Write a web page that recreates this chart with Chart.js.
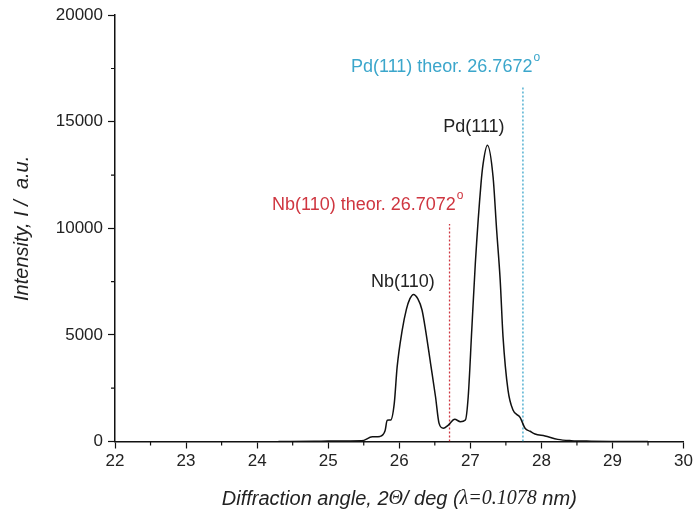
<!DOCTYPE html>
<html>
<head>
<meta charset="utf-8">
<script src="https://cdn.jsdelivr.net/npm/chart.js@4.4.1/dist/chart.umd.min.js"></script>
<style>
  body { margin: 0; background: #fff; }
  #wrap { width: 696px; height: 515px; }
</style>
</head>
<body>
<div id="wrap"><canvas id="xrd" width="696" height="515"></canvas></div>
<script>
// XRD pattern - Nb(110) / Pd(111) region
var angle = [24.3, 24.8, 25.0, 25.3, 25.47, 25.62, 25.73, 25.8, 25.83, 25.88, 25.93, 25.97,
  26.04, 26.1, 26.15, 26.2, 26.26, 26.32, 26.37, 26.44, 26.51, 26.56, 26.62, 26.69, 26.78, 26.86,
  26.93, 26.97, 27.02, 27.07, 27.15, 27.18, 27.24, 27.32, 27.37, 27.42, 27.46, 27.53, 27.6,
  27.7, 27.77, 27.84, 27.91, 28.05, 28.23, 28.42, 28.7, 29.0, 29.5];
var intensity = [0, 10, 20, 25, 30, 220, 240, 500, 1000, 1010, 1800, 3500,
  5200, 6200, 6700, 6900, 6700, 6170, 5230, 3670, 2100, 850, 620, 770, 1040, 930,
  1010, 2100, 5230, 8350, 12100, 13040, 13900, 12410, 9920, 7570, 4910, 2410, 1480,
  1130, 620, 480, 350, 260, 100, 40, 15, 5, 0];

// theoretical positions (drawn where the picture puts them)
var nbTheorX = [26.7072, 26.7072];
var nbTheorY = [0, 10200];
var pdTheorX = [27.74, 27.74];
var pdTheorY = [0, 16630];

var xTicks = [22, 23, 24, 25, 26, 27, 28, 29, 30];
var yTicks = [0, 5000, 10000, 15000, 20000];

var RED = '#cf3640';
var BLUE = '#3ba6cb';
var SANS = "'Liberation Sans', Arial, sans-serif";
var SERIF = "'Liberation Serif', 'Times New Roman', serif";

function pts(xs, ys) {
  return xs.map(function (x, i) { return { x: x, y: ys[i] }; });
}

var labels = [
  { text: 'Nb(110)', x: 26.05, y: 7490, color: '#222', align: 'center' },
  { text: 'Pd(111)', x: 27.05, y: 14760, color: '#222', align: 'center' },
  { text: 'Nb(110) theor. 26.7072', x: 24.21, y: 11090, color: RED, align: 'left', deg: true },
  { text: 'Pd(111) theor. 26.7672', x: 25.32, y: 17570, color: BLUE, align: 'left', deg: true }
];

var extras = {
  id: 'extras',
  afterDraw: function (chart) {
    var ctx = chart.ctx;
    var xs = chart.scales.x, ys = chart.scales.y;
    ctx.save();
    // minor ticks
    ctx.strokeStyle = '#111';
    ctx.lineWidth = 1.2;
    ctx.beginPath();
    for (var v = 22.5; v < 30; v += 1) {
      var px = xs.getPixelForValue(v);
      ctx.moveTo(px, ys.bottom);
      ctx.lineTo(px, ys.bottom + 4);
    }
    for (var w = 2500; w < 20000; w += 5000) {
      var py = ys.getPixelForValue(w);
      ctx.moveTo(xs.left, py);
      ctx.lineTo(xs.left - 4, py);
    }
    ctx.stroke();

    // peak labels
    ctx.textBaseline = 'middle';
    labels.forEach(function (l) {
      var x = xs.getPixelForValue(l.x), y = ys.getPixelForValue(l.y);
      ctx.font = '18px ' + SANS;
      ctx.fillStyle = l.color;
      ctx.textAlign = l.align;
      ctx.fillText(l.text, x, y);
      if (l.deg) {
        var wd = ctx.measureText(l.text).width;
        ctx.font = '12px ' + SANS;
        ctx.textAlign = 'left';
        ctx.fillText('o', x + wd + 1, y - 9);
      }
    });

    // x axis title, mixed fonts
    var parts = [
      ['Diffraction angle, 2', 'italic 20px ' + SANS],
      ['\u0398', 'italic 20px ' + SERIF],
      ['/ deg (', 'italic 20px ' + SANS],
      ['\u03bb=0.1078', 'italic 20px ' + SERIF],
      [' nm)', 'italic 20px ' + SANS]
    ];
    var total = 0;
    parts.forEach(function (p) { ctx.font = p[1]; total += ctx.measureText(p[0]).width; });
    var cx = (xs.left + xs.right) / 2 - total / 2;
    ctx.fillStyle = '#222';
    ctx.textAlign = 'left';
    parts.forEach(function (p) {
      ctx.font = p[1];
      ctx.fillText(p[0], cx, 499);
      cx += ctx.measureText(p[0]).width;
    });
    ctx.restore();
  }
};

var ctx = document.getElementById('xrd').getContext('2d');
var myChart = new Chart(ctx, {
  type: 'scatter',
  data: {
    datasets: [{
      label: 'XRD',
      data: pts(angle, intensity),
      showLine: true,
      borderColor: '#111',
      borderWidth: 1.5,
      pointRadius: 0,
      cubicInterpolationMode: 'monotone'
    }, {
      label: 'Nb(110) theor.',
      data: pts(nbTheorX, nbTheorY),
      showLine: true,
      borderColor: RED,
      borderWidth: 1.3,
      borderDash: [2, 2],
      pointRadius: 0
    }, {
      label: 'Pd(111) theor.',
      data: pts(pdTheorX, pdTheorY),
      showLine: true,
      borderColor: BLUE,
      borderWidth: 1.3,
      borderDash: [2, 2],
      pointRadius: 0
    }]
  },
  options: {
    responsive: false,
    animation: false,
    layout: { padding: { top: 15, right: 10, left: 0, bottom: 0 } },
    plugins: { legend: { display: false }, tooltip: { enabled: false } },
    scales: {
      x: {
        type: 'linear',
        min: 22, max: 30,
        afterBuildTicks: function (s) { s.ticks = xTicks.map(function (v) { return { value: v }; }); },
        afterFit: function (s) { s.height = 73.5; },
        grid: { drawOnChartArea: false, tickLength: 7, tickColor: '#111', tickWidth: 1.2 },
        border: { color: '#111', width: 1.5 },
        ticks: { color: '#222', padding: 3, font: { size: 17, family: SANS },
          callback: function (v) { return String(v); } }
      },
      y: {
        min: 0, max: 20000,
        afterBuildTicks: function (s) { s.ticks = yTicks.map(function (v) { return { value: v }; }); },
        afterFit: function (s) { s.width = 115; },
        grid: { drawOnChartArea: false, tickLength: 7, tickColor: '#111', tickWidth: 1.2 },
        border: { color: '#111', width: 1.5 },
        ticks: { color: '#222', padding: 5, font: { size: 17, family: SANS },
          callback: function (v) { return String(v); } },
        title: {
          display: true,
          text: 'Intensity, I /  a.u.',
          color: '#222',
          padding: { top: 10, bottom: 0 },
          font: { size: 20, style: 'italic', family: SANS }
        }
      }
    }
  },
  plugins: [extras]
});
</script>
</body>
</html>
